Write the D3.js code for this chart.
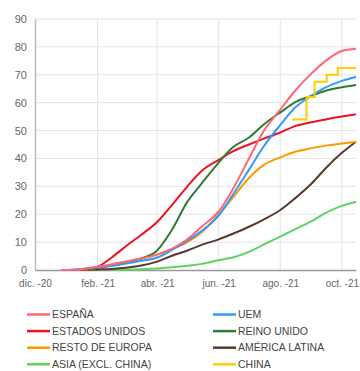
<!DOCTYPE html>
<html><head><meta charset="utf-8">
<script src="https://cdn.jsdelivr.net/npm/d3@7/dist/d3.min.js"></script>
<style>
html,body{margin:0;padding:0;background:#fff;}
svg{display:block;}
</style></head>
<body>
<svg id="chart" width="360" height="371"></svg>
<script>
// ---- DATA ----
const dates = ["2020-12-27","2021-01-15","2021-02-01","2021-02-15","2021-03-01","2021-03-15","2021-04-01","2021-04-15","2021-05-01","2021-05-15","2021-06-01","2021-06-15","2021-07-01","2021-07-15","2021-08-01","2021-08-15","2021-09-01","2021-09-15","2021-10-01","2021-10-15"];
const espana  = [0,0.3,1.2,2,3,4,5.5,7.5,11,15.5,21,29,40,49.5,57.5,64,70.5,75,78.5,79.3];
const uem     = [0,0.3,1,1.5,2.3,3.2,4.5,7,10.5,14,19.5,27,36,44,52,58,62.5,65.5,67.8,69.2];
const eeuu    = [null,0,1.2,4.5,8.5,12.3,17.2,23,30,35.5,39.5,42.5,45,47,49.3,51.5,53,54,55,55.8];
const reinoUnido = [null,0.3,0.8,1.5,2.5,4,7,14,24.5,31,38.5,44,47.5,52,56.5,60,62.5,64.3,65.5,66.3];
const restoEuropa = [null,0,0.8,2,3,4,5.5,7.5,10,13.5,20,26,33,37.5,40.4,42.3,43.7,44.6,45.4,46];
const americaLatina = [null,0,0.2,0.4,0.8,1.5,3,5,7,9,11,13,15.5,18,21.5,25.5,31,36.5,42,46];
const asia    = [null,null,null,0,0.1,0.3,0.5,1,1.5,2.2,3.5,4.5,6.5,9,12,14.5,17.5,20.5,23,24.5];
const chinaDates  = ["2021-08-13","2021-08-27","2021-09-04","2021-09-16","2021-09-27","2021-10-15"];
const chinaValues = [54,62,67.5,70,72.4,72.4];

const seriesNames  = ["ESPAÑA","UEM","ESTADOS UNIDOS","REINO UNIDO","RESTO DE EUROPA","AMÉRICA LATINA","ASIA (EXCL. CHINA)","CHINA"];
const seriesColors = ["#ff6677","#3399ff","#ee1122","#2e7d32","#ff9900","#5b3a2e","#5fd35f","#ffcc00"];
const yTicks = [0,10,20,30,40,50,60,70,80,90];
const xTickDates  = ["2020-12-01","2021-02-01","2021-04-01","2021-06-01","2021-08-01","2021-10-01"];
const xTickLabels = ["dic. -20","feb. -21","abr. -21","jun. -21","ago. -21","oct. -21"];

// ---- CHART ----
const parse = d3.timeParse("%Y-%m-%d");
const svg = d3.select("#chart");
const m = {left:35, top:19, right:356, bottom:270};
const x = d3.scaleTime().domain([parse("2020-12-01"), parse("2021-10-15")]).range([m.left, m.right]);
const y = d3.scaleLinear().domain([0,90]).range([m.bottom, m.top]);

const font = "'Liberation Sans', Arial, sans-serif";

// grid
const g = svg.append("g");
g.selectAll("line.h").data(yTicks.slice(1)).join("line")
  .attr("x1", m.left).attr("x2", m.right).attr("y1", d=>y(d)).attr("y2", d=>y(d))
  .attr("stroke","#e4e4e4").attr("stroke-width",1);
g.selectAll("line.v").data(xTickDates.slice(1)).join("line")
  .attr("x1", d=>x(parse(d))).attr("x2", d=>x(parse(d))).attr("y1", m.top).attr("y2", m.bottom)
  .attr("stroke","#e4e4e4").attr("stroke-width",1);

// y axis
const yAxis = d3.axisLeft(y).tickValues(yTicks).tickSize(0).tickPadding(8);
const ya = svg.append("g").attr("transform",`translate(${m.left},0)`).call(yAxis);
ya.select(".domain").attr("stroke","#bbbbbb").attr("stroke-width",1.5);
ya.selectAll("text").attr("fill","#666").style("font-family",font).style("font-size","11px");

// x axis
const xAxis = d3.axisBottom(x).tickValues(xTickDates.map(parse)).tickSize(0).tickPadding(10)
  .tickFormat((d,i)=>xTickLabels[i]);
const xa = svg.append("g").attr("transform",`translate(0,${m.bottom})`).call(xAxis);
xa.select(".domain").attr("stroke","#999").attr("stroke-width",1.5);
xa.selectAll("text").attr("fill","#666").style("font-family",font).style("font-size","10px");

// lines
const seriesValues = [espana, uem, eeuu, reinoUnido, restoEuropa, americaLatina, asia];
const line = d3.line().defined(d=>d.v!=null).x(d=>x(d.d)).y(d=>y(d.v)).curve(d3.curveMonotoneX);
const drawOrder = [6,5,4,2,3,1,0];
drawOrder.forEach(i=>{
  const data = dates.map((d,k)=>({d:parse(d), v:seriesValues[i][k]}));
  svg.append("path").datum(data).attr("d", line).attr("fill","none")
    .attr("stroke", seriesColors[i]).attr("stroke-width",2);
});
const chinaData = chinaDates.map((d,k)=>({d:parse(d), v:chinaValues[k]}));
svg.append("path").datum(chinaData)
  .attr("d", d3.line().x(d=>x(d.d)).y(d=>y(d.v)).curve(d3.curveStepAfter))
  .attr("fill","none").attr("stroke", seriesColors[7]).attr("stroke-width",2);

// legend
const lg = svg.append("g");
seriesNames.forEach((name,i)=>{
  const col = i%2, row = Math.floor(i/2);
  const lx = col===0 ? 27 : 213;
  const ly = 314.5 + row*16.6;
  lg.append("line").attr("x1",lx).attr("x2",lx+23).attr("y1",ly).attr("y2",ly)
    .attr("stroke",seriesColors[i]).attr("stroke-width",2.5);
  lg.append("text").attr("x",lx+25).attr("y",ly+3.5).text(name)
    .attr("fill","#444").style("font-family",font).style("font-size","10.5px");
});
</script>
</body></html>
